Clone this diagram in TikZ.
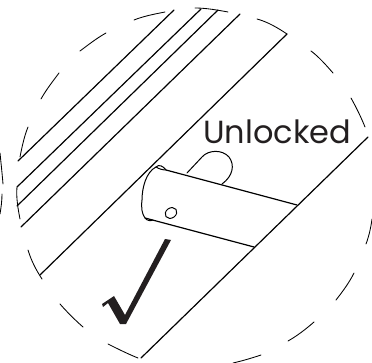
\documentclass[tikz,border=0pt]{standalone}
\usepackage{fontspec}
\setmainfont{Poppins}
\definecolor{ink}{HTML}{231F20}
\tikzset{
  outline/.style={line width=1.2pt,draw=black,line cap=round,line join=round},
  dashpart/.style={line width=0.85pt,draw=black,line cap=round},
  thin part/.style={line width=1pt,draw=black,line cap=round,line join=round},
  label text/.style={inner sep=0pt,anchor=base west,text=ink,font=\fontsize{32}{32}\selectfont}
}
\begin{document}
\begin{tikzpicture}[x=1pt,y=-1pt]
\useasboundingbox (0,0) rectangle (372,363);
% stripes
\draw[outline] (174,10) -- (18,161);
\draw[outline] (201,9) -- (17,187);
\draw[outline] (218,10) -- (17,206);
\draw[outline] (240,14) -- (21,227);
\draw[outline] (287,34) -- (40,275);
\draw[outline] (368,137) -- (141,358);
% dashed circle
\draw[dashpart] (134,20) .. controls (144,16) and (155,14) .. (165,12);
\draw[dashpart] (80,51) .. controls (88,45) and (97,38) .. (106,33);
\draw[dashpart] (41,99) .. controls (46,90) and (53,81) .. (59,73);
\draw[dashpart] (28,127) .. controls (24,137) and (22,147) .. (20,157);
\draw[dashpart] (0,153) .. controls (1,163) and (2,172) .. (3,184);
\draw[dashpart] (2,194) .. controls (2,201) and (1,208) .. (0,214);
\draw[dashpart] (17,187) .. controls (16,197) and (18,209) .. (20,219);
\draw[dashpart] (28,250) .. controls (31,260) and (36,270) .. (42,279);
\draw[dashpart] (60,304) .. controls (67,312) and (75,320) .. (83,327);
\draw[dashpart] (108,344) .. controls (118,349) and (128,354) .. (138,358);
\draw[dashpart] (233,363) .. controls (242,361) and (252,358) .. (261,355);
\draw[dashpart] (288,341) .. controls (297,336) and (306,329) .. (314,322);
\draw[dashpart] (336,300) .. controls (343,291) and (349,283) .. (354,273);
\draw[dashpart] (366,244) .. controls (369,236) and (371,227) .. (372,219);
\draw[dashpart] (351,98) .. controls (356,107) and (361,117) .. (365,127);
\draw[dashpart] (311,51) .. controls (319,57) and (326,65) .. (333,73);
\draw[dashpart] (257,19) .. controls (268,22) and (278,28) .. (287,34);
\draw[dashpart] (195,8) .. controls (206,8) and (217,10) .. (228,12);
% pin behind the tube
\draw[thin part] (187,173) -- (202,157) .. controls (208,150) and (222,149) .. (229,157)
  .. controls (235,165) and (233,176) .. (222,184);
% tube
\draw[outline] (166,170) -- (297,205);
\draw[outline] (145,218) -- (254,247);
\draw[thin part] (166,170) .. controls (163,166) and (159,164) .. (156,167)
  .. controls (146,172) and (142,188) .. (142,200)
  .. controls (141,208) and (142,214) .. (145,218)
  .. controls (147,221) and (151,221) .. (153,220);
\draw[thin part] (156,167) .. controls (159,169) and (163,170) .. (166,170);
\draw[thin part,rotate around={35:(171,213)}] (171,213) ellipse [x radius=6.2,y radius=5];
% tick
\fill[ink] (102,304) -- (114,296) -- (125,315) -- (165,239) -- (171,240) -- (126,324) -- (120,324) -- (108,303) -- (103,307) -- cycle;
\node[label text] (unlocked) at (203,144) {Unlocked};
\end{tikzpicture}
\end{document}
